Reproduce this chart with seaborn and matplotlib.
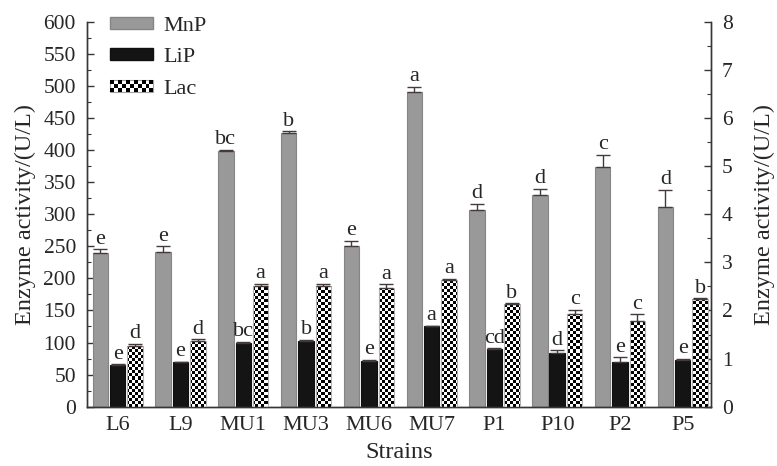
import matplotlib
matplotlib.use('Agg')
import matplotlib.pyplot as plt
from matplotlib.patches import Rectangle, Patch
from matplotlib.legend_handler import HandlerBase
from matplotlib.ticker import MultipleLocator
import seaborn as sns
import numpy as np
import pandas as pd

strains = ['L6', 'L9', 'MU1', 'MU3', 'MU6', 'MU7', 'P1', 'P10', 'P2', 'P5']
enzymes = ['MnP', 'LiP', 'Lac']
mnp = [239, 241, 398, 426, 251, 490, 307, 330, 374, 311]
mnp_err = [6, 9, 2, 3, 8, 8, 9, 9, 19, 27]
lip = [65, 69, 100, 103, 71, 125, 90, 84, 69, 73]
lip_err = [1, 1, 1, 1, 2, 1, 1, 4, 8, 2]
lac = [1.27, 1.37, 2.51, 2.51, 2.47, 2.63, 2.13, 1.92, 1.79, 2.23]
lac_err = [0.04, 0.03, 0.05, 0.05, 0.07, 0.02, 0.02, 0.09, 0.13, 0.02]
mnp_sig = ['e', 'e', 'bc', 'b', 'e', 'a', 'd', 'd', 'c', 'd']
lip_sig = ['e', 'e', 'bc', 'b', 'e', 'a', 'cd', 'd', 'e', 'e']
lac_sig = ['d', 'd', 'a', 'a', 'a', 'a', 'b', 'c', 'c', 'b']
left_ticks = list(range(0, 601, 50))
right_ticks = list(range(0, 9))

sns.set_style('ticks')
plt.rcParams['font.family'] = ['Liberation Serif', 'DejaVu Serif']
FS_TICK = 15.5
FS_XTICK = 16
FS_LAB = 17.5
FS_SIG = 16
FS_LEG = 16

palette = {'MnP': '#999999', 'LiP': '#141414', 'Lac': '#ffffff'}
edges = {'MnP': '#858585', 'LiP': '#101010', 'Lac': '#b0b0b0'}
spine_c = '#3a3535'
err_c = '#453a3a'

left_df = pd.DataFrame({
    'Strain': strains * 2,
    'Enzyme': ['MnP'] * len(strains) + ['LiP'] * len(strains),
    'Value': mnp + lip,
})
right_df = pd.DataFrame({'Strain': strains, 'Enzyme': ['Lac'] * len(strains), 'Value': lac})

fig = plt.figure(figsize=(7.77, 4.66), dpi=100)
ax = fig.add_axes([87 / 777, 1 - 406.7 / 466, 624 / 777, 385 / 466])
ax2 = ax.twinx()

sns.barplot(data=left_df, x='Strain', y='Value', hue='Enzyme', order=strains,
            hue_order=enzymes, palette=palette, width=0.83, gap=0.11, dodge=True,
            errorbar=None, legend=False, ax=ax)
sns.barplot(data=right_df, x='Strain', y='Value', hue='Enzyme', order=strains,
            hue_order=enzymes, palette=palette, width=0.83, gap=0.11, dodge=True,
            errorbar=None, legend=False, ax=ax2)

xlim = (-0.49, 9.45)
left_conts = [c for c in ax.containers if len(c.patches) > 0]
right_conts = [c for c in ax2.containers if len(c.patches) > 0]


def annotate_container(axis, container, vals, errs, sigs, name):
    xs, hs, es, ss = [], [], [], []
    for p in container.patches:
        cx = p.get_x() + p.get_width() / 2
        i = int(round(cx))
        p.set_edgecolor(edges[name])
        p.set_linewidth(0.8)
        xs.append(cx); hs.append(vals[i]); es.append(errs[i]); ss.append(sigs[i])
    axis.errorbar(xs, hs, yerr=[np.zeros(len(es)), es], fmt='none', ecolor=err_c,
                  elinewidth=1.0, capsize=5, capthick=1.0, zorder=4)
    for x, h, e, s in zip(xs, hs, es, ss):
        axis.annotate(s, (x, h + e), xytext=(0, 0.5), textcoords='offset points',
                      ha='center', va='bottom', fontsize=FS_SIG, zorder=5,
                      annotation_clip=False)


annotate_container(ax, left_conts[0], mnp, mnp_err, mnp_sig, 'MnP')
annotate_container(ax, left_conts[1], lip, lip_err, lip_sig, 'LiP')

# checkerboard texture for Lac bars
nr, nc = 128, 208
checker = (np.indices((nr, nc)).sum(axis=0) % 2).astype(float)
for p in right_conts[0].patches:
    im = ax2.imshow(checker, extent=(xlim[0], xlim[1], 0, 8), origin='lower',
                    aspect='auto', interpolation='nearest', cmap='gray',
                    vmin=0, vmax=1, zorder=2)
    im.set_clip_path(p)
    p.set_facecolor('none')
    p.set_zorder(3)
annotate_container(ax2, right_conts[0], lac, lac_err, lac_sig, 'Lac')

ax.set_xlim(*xlim)
ax2.set_xlim(*xlim)
ax.set_ylim(0, 600)
ax2.set_ylim(0, 8)
ax.set_yticks(left_ticks)
ax2.set_yticks(right_ticks)
ax.yaxis.set_minor_locator(MultipleLocator(25))
ax2.yaxis.set_minor_locator(MultipleLocator(0.5))

for a in (ax, ax2):
    a.spines['top'].set_visible(False)
    for s in ('left', 'right', 'bottom'):
        a.spines[s].set_color(spine_c)
        a.spines[s].set_linewidth(1.0)
    a.tick_params(axis='y', which='major', direction='in', length=5, width=1.0,
                  color=spine_c, labelsize=FS_TICK, pad=8)
    a.tick_params(axis='y', which='minor', direction='in', length=3, width=0.8,
                  color=spine_c)
    a.tick_params(axis='x', length=0, labelsize=FS_XTICK, pad=7)
    a.grid(False)

ax.set_xlabel('Strains', fontsize=FS_LAB, labelpad=5)
ax.set_ylabel('Enzyme activity/(U/L)', fontsize=FS_LAB, labelpad=5)
ax2.set_ylabel('Enzyme activity/(U/L)', fontsize=FS_LAB, labelpad=15)


class CheckerHandler(HandlerBase):
    def create_artists(self, legend, orig_handle, xdescent, ydescent, width,
                       height, fontsize, trans):
        arts = [Rectangle((-xdescent, -ydescent), width, height, facecolor='white',
                          edgecolor='#a0a0a0', lw=0.8, transform=trans)]
        rows = 3
        cell = height / rows
        cols = max(1, int(round(width / cell)))
        cw = width / cols
        for i in range(cols):
            for j in range(rows):
                if (i + j) % 2 == 0:
                    arts.append(Rectangle((-xdescent + i * cw, -ydescent + j * cell),
                                          cw, cell, facecolor='black',
                                          edgecolor='none', transform=trans))
        return arts


handles = [Patch(facecolor=palette['MnP'], edgecolor=edges['MnP']),
           Patch(facecolor=palette['LiP'], edgecolor=edges['LiP']),
           Patch(facecolor='white', edgecolor='#a0a0a0')]
leg = ax2.legend(handles, enzymes, loc='upper left', bbox_to_anchor=(0.037, 1.012),
                 frameon=False, fontsize=FS_LEG, handlelength=1.95, handleheight=0.45,
                 handletextpad=0.45, labelspacing=0.55, borderpad=0, borderaxespad=0,
                 handler_map={handles[2]: CheckerHandler()})

fig.savefig('out.png', dpi=100)
